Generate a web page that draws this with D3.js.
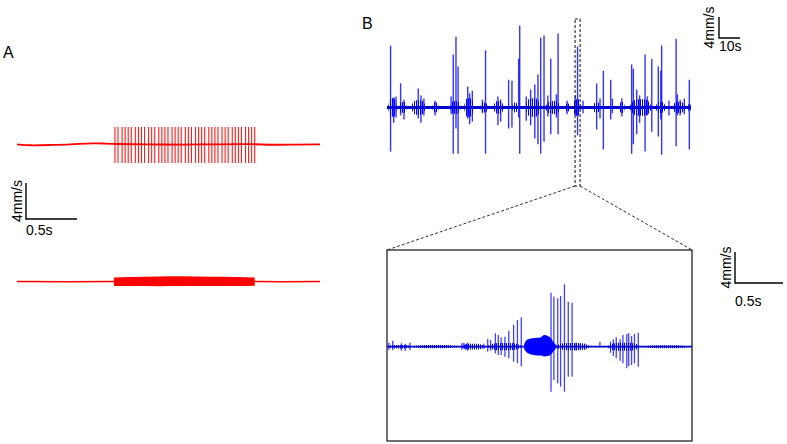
<!DOCTYPE html>
<meta charset="utf-8">
<style>
body { margin: 0; background: #fff; }
svg { font-family: "Liberation Sans", Arial, sans-serif; }
</style>
<svg width="787" height="444"></svg>
<script src="https://d3js.org/d3.v7.min.js"></script>
<script>

// ---------- Panel A (time in s, velocity in mm/s) ----------
var aTopBaseline = [[0,-0.05],[0.13,-0.17],[0.32,-0.11],[0.52,-0.05],[0.76,0.11],[0.86,0.05],[0.96,0],
    [1.3,-0.05],[1.6,-0.08],[2.0,-0.03],[2.33,0],[2.48,-0.11],[2.77,-0.05],[2.97,-0.05]];
var aTopSpikeTimes = [0.96,0.99,1.03,1.06,1.09,1.12,1.16,1.19,1.22,1.25,1.29,1.32,1.35,1.39,1.42,
    1.45,1.48,1.52,1.55,1.58,1.61,1.65,1.68,1.71,1.75,1.78,1.81,1.84,1.88,1.91,1.94,1.97,2.01,2.04,
    2.07,2.11,2.14,2.17,2.20,2.24,2.27,2.30,2.33];
var aTopSpikeAmp = [1.9, 2.1];   // up, down
var aBottomBaseline = [[0,0],[0.5,-0.03],[0.95,0],[2.33,0],[2.6,-0.03],[2.97,0]];
var aBottomEnvelope = [[0.95,0.45,0.5],[1.1,0.5,0.5],[1.4,0.55,0.52],[1.6,0.58,0.5],[1.9,0.52,0.5],
    [2.15,0.5,0.5],[2.33,0.45,0.48]];

// ---------- Panel B, top (time in s, velocity in mm/s) ----------
// [time, up, down]
var bSpikes = [[1.7,11.8,8.4],[3.2,1.9,2.9],[4.3,2.1,1.9],[6.5,4.6,1.5],[8.1,1.5,2.3],[14.9,3.6,2.1],
    [16.2,2.3,2.9],[17.6,1.7,1.5],[22.9,1.3,1.5],[30.6,2.1,1.3],
    [31.6,10.1,8.8],[32.9,13.5,4.0],[33.9,7.8,8.8],[38.5,4.0,2.1],[39.4,2.7,3.2],[40.7,3.2,2.7],
    [45.5,1.5,1.1],[47.0,10.9,8.8],
    [52.9,2.1,3.4],[54.2,1.5,2.7],[58.0,5.3,4.0],[59.6,5.1,3.8],[62.8,9.3,1.9],[63.3,15.6,8.8],[66.4,2.1,2.5],[68.5,3.4,3.4],
    [70.5,4.4,5.9],[72.0,6.3,7.0],[73.3,13.3,8.8],[74.9,13.7,6.5],[76.7,2.3,1.7],[78.1,9.3,5.1],[80.8,2.5,1.9],
    [81.6,14.1,5.1],[85.9,1.3,1.3],[89.8,2.3,1.5],[90.9,11.6,5.3],[93.5,1.3,1.1],[100.0,4.6,4.2],[101.6,1.7,2.1],[103.2,7.0,8.0],
    [106.7,5.3,2.3],[107.5,1.7,1.1],[112.0,1.7,1.7],[116.7,8.2,8.8],[117.5,7.4,7.0],[119.1,3.4,5.1],
    [120.5,2.3,2.9],[123.1,10.1,8.4],[124.2,2.1,1.5],[126.3,9.3,4.6],[129.4,7.8,5.5],[130.6,7.0,2.3],[131.0,11.8,9.0],
    [134.5,1.3,1.5],[137.9,13.1,7.4],[138.5,2.5,1.5],[139.8,1.5,1.5],[141.8,1.7,1.3],[144.2,5.3,8.0]];
// bursts of dense activity: [start, end, amplitude]
var bBursts = [[0.5,4.8,1.9],[5.7,9.5,1.1],[11.4,18.6,1.5],[21.5,24.8,1.0],[30,35.3,1.3],[36.7,41.5,1.9],
    [44.4,48.2,1.0],[50.6,55.8,1.3],[59.6,62.5,1.0],[65.8,73.5,1.9],[75.4,83,1.3],[84.9,87.3,0.8],
    [88.7,92.5,1.7],[98,102,1.0],[110.7,113.5,1.1],[115.5,126.5,1.7],[128,133,1.1],[135.9,142.6,1.1],
    [143.5,145,0.8]];
var zoomWindow = [89.7, 92.1];

// ---------- Panel B, expanded (time in s, velocity in mm/s) ----------
var zSpikes = [[0.02,0.52,0.43],[0.06,0.77,0.43],[0.15,0.44,0.52],[0.19,0.39,0.52],[0.24,0.52,0.45],
    [0.78,0.45,0.39],[0.80,0.52,0.26],[0.82,0.39,0.39],[0.84,0.52,0.52],[0.87,0.39,0.26],[1.01,0.39,0.26],
    [1.05,1.0,0.65],[1.08,0.86,0.52],[1.13,1.73,0.85],[1.16,1.51,1.07],[1.19,1.21,1.07],[1.23,1.29,1.29],
    [1.27,2.06,1.5],[1.32,2.8,1.94],[1.36,3.45,2.14],[1.40,3.79,2.49],[1.71,6.97,5.81],[1.74,6.45,4.3],
    [1.78,6.25,4.72],[1.81,6.54,5.16],[1.85,8.05,5.81],[1.89,5.81,3.87],[1.93,5.68,3.87],[1.97,0.52,0.52],
    [2.00,0.39,0.39],[2.06,0.39,0.39],[2.22,0.65,0.13],[2.33,0.65,0.77],[2.36,0.95,1.2],[2.39,1.21,1.5],
    [2.43,0.95,1.81],[2.46,1.51,2.14],[2.50,1.64,2.79],[2.52,1.73,2.49],[2.55,1.38,2.36],[2.58,1.64,2.14],
    [2.62,1.81,2.58]];
var zBlob = [[1.43,0.3,0.3],[1.45,0.8,0.65],[1.48,1.0,0.9],[1.52,1.1,1.05],[1.56,1.15,1.15],
    [1.60,1.2,1.15],[1.64,1.5,1.25],[1.68,1.35,1.2],[1.71,1.1,1.0],[1.74,0.52,0.52],[1.76,0.3,0.3]];
var zBursts = [[0.0,0.26,0.25],[0.24,0.77,0.22],[0.77,1.03,0.4],[1.03,1.42,0.5],[1.74,2.13,0.5],
    [2.29,2.65,0.55],[2.65,3.18,0.2]];

// ---------- drawing ----------
var svg = d3.select("svg");
var red = "#ff0000", blue = "#0000ff", dark = "#0000cc";

// vertical hatching used to render dense activity
var defs = svg.append("defs");
defs.append("pattern").attr("id", "hatch").attr("patternUnits", "userSpaceOnUse")
    .attr("width", 2).attr("height", 4)
  .append("rect").attr("x", 0).attr("y", 0).attr("width", 1).attr("height", 4).attr("fill", blue);

var xA = d3.scaleLinear().domain([0, 2.97]).range([17, 320]);
var yA1 = d3.scaleLinear().domain([-4, 4]).range([180, 108]);
var yA2 = d3.scaleLinear().domain([-4, 4]).range([317.5, 245.5]);
var xB = d3.scaleLinear().domain([0, 145]).range([387, 691]);
var yB = d3.scaleLinear().domain([-20, 20]).range([212.5, 2.5]);
var xZ = d3.scaleLinear().domain([0, 3.18]).range([387, 692]);
var yZ = d3.scaleLinear().domain([-10, 10]).range([424.2, 269.2]);

function spikes(g, data, x, y, color, opacity, width) {
    g.append("g").selectAll("line").data(data).enter().append("line")
        .attr("x1", function(d) { return x(d[0]); })
        .attr("x2", function(d) { return x(d[0]); })
        .attr("y1", function(d) { return y(d[1]); })
        .attr("y2", function(d) { return y(-d[2]); })
        .attr("stroke", color).attr("stroke-opacity", opacity).attr("stroke-width", width);
}

function bursts(g, data, x, y) {
    var area = d3.area().curve(d3.curveBasis)
        .x(function(p) { return x(p[0]); })
        .y0(function(p) { return y(-p[1]); })
        .y1(function(p) { return y(p[1]); });
    g.append("g").selectAll("path").data(data).enter().append("path")
        .attr("d", function(d) {
            var w = d[1] - d[0];
            return area([[d[0], 0], [d[0] + w * 0.2, d[2]], [d[0] + w * 0.5, d[2] * 0.9],
                [d[0] + w * 0.8, d[2]], [d[1], 0]]);
        })
        .attr("fill", "url(#hatch)");
}

function scaleBar(x0, y0, lenX, lenY, xLabel, yLabel, xLabelY, yLabelX) {
    var g = svg.append("g");
    g.append("path")
        .attr("d", "M" + x0 + "," + (y0 - lenY) + "V" + y0 + "H" + (x0 + lenX))
        .attr("fill", "none").attr("stroke", "#000").attr("stroke-width", 1.4);
    g.append("text").attr("x", x0).attr("y", xLabelY)
        .attr("font-size", 14).text(xLabel);
    g.append("text")
        .attr("transform", "translate(" + yLabelX + "," + (y0 - lenY / 2) + ") rotate(-90)")
        .attr("text-anchor", "middle").attr("font-size", 14).text(yLabel);
}

// Panel A
var gA = svg.append("g");
spikes(gA, aTopSpikeTimes.map(function(t) { return [t, aTopSpikeAmp[0], aTopSpikeAmp[1]]; }),
    xA, yA1, red, 0.9, 1.1);
gA.append("path").datum(aTopBaseline)
    .attr("d", d3.line().curve(d3.curveBasis).x(function(d) { return xA(d[0]); }).y(function(d) { return yA1(d[1]); }))
    .attr("fill", "none").attr("stroke", red).attr("stroke-width", 1.8);
gA.append("path").datum(aBottomBaseline)
    .attr("d", d3.line().x(function(d) { return xA(d[0]); }).y(function(d) { return yA2(d[1]); }))
    .attr("fill", "none").attr("stroke", red).attr("stroke-width", 1.3);
gA.append("path").datum(aBottomEnvelope)
    .attr("d", d3.area().curve(d3.curveMonotoneX).x(function(d) { return xA(d[0]); })
        .y0(function(d) { return yA2(-d[2]); }).y1(function(d) { return yA2(d[1]); }))
    .attr("fill", red);
svg.append("text").attr("x", 3).attr("y", 58).attr("font-size", 16).text("A");
scaleBar(26, 219, xA(0.5) - xA(0), yA1(0) - yA1(4), "0.5s", "4mm/s", 235, 22);

// Panel B top
var gB = svg.append("g");
bursts(gB, bBursts, xB, yB);
gB.append("line").attr("x1", xB(0)).attr("x2", xB(145)).attr("y1", yB(0)).attr("y2", yB(0))
    .attr("stroke", dark).attr("stroke-width", 3);
spikes(gB, bSpikes, xB, yB, blue, 0.8, 1.4);
svg.append("text").attr("x", 362).attr("y", 29).attr("font-size", 16).text("B");
scaleBar(719, 38, xB(10) - xB(0), yB(0) - yB(4), "10s", "4mm/s", 51, 714);

// zoom window marker and connectors
var zx0 = xB(zoomWindow[0]), zx1 = xB(zoomWindow[1]);
svg.append("rect").attr("x", zx0).attr("y", 19).attr("width", zx1 - zx0).attr("height", 167)
    .attr("fill", "none").attr("stroke", "#222").attr("stroke-width", 1.1).attr("stroke-dasharray", "3,2");
svg.append("line").attr("x1", zx0).attr("y1", 186).attr("x2", xZ(0)).attr("y2", 250)
    .attr("stroke", "#333").attr("stroke-dasharray", "3,2");
svg.append("line").attr("x1", zx1).attr("y1", 186).attr("x2", xZ(3.18)).attr("y2", 250)
    .attr("stroke", "#333").attr("stroke-dasharray", "3,2");

// Panel B expanded
var gZ = svg.append("g");
gZ.append("rect").attr("x", xZ(0)).attr("y", 250).attr("width", xZ(3.18) - xZ(0)).attr("height", 191)
    .attr("fill", "none").attr("stroke", "#222").attr("stroke-width", 1.3);
bursts(gZ, zBursts, xZ, yZ);
gZ.append("line").attr("x1", xZ(0)).attr("x2", xZ(3.18)).attr("y1", yZ(0)).attr("y2", yZ(0))
    .attr("stroke", dark).attr("stroke-width", 1.8);
gZ.append("path").datum(zBlob)
    .attr("d", d3.area().curve(d3.curveMonotoneX).x(function(d) { return xZ(d[0]); })
        .y0(function(d) { return yZ(-d[2]); }).y1(function(d) { return yZ(d[1]); }))
    .attr("fill", blue);
spikes(gZ, zSpikes, xZ, yZ, blue, 0.75, 1.3);
scaleBar(735, 283, xZ(0.5) - xZ(0), yZ(0) - yZ(4), "0.5s", "4mm/s", 306, 731);

</script>
